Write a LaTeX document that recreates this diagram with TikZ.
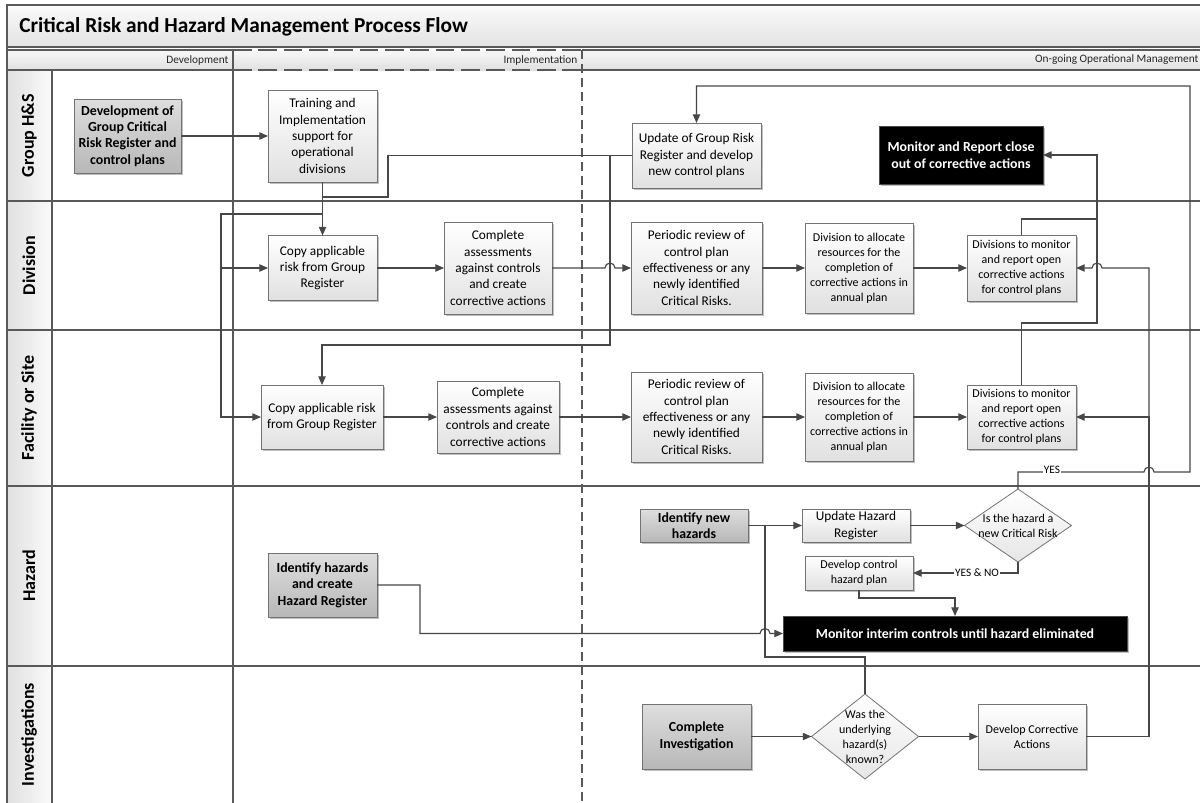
\documentclass[tikz,border=0pt]{standalone}
\usepackage{fontspec}
\setmainfont{Carlito}
\usetikzlibrary{arrows.meta,shadows,shapes.geometric}
\newcommand{\fszA}{\fontsize{10}{12.3}\selectfont}
\newcommand{\fszB}{\fontsize{9}{11.2}\selectfont}
\newcommand{\fszC}{\bfseries\fontsize{10.4}{12.3}\selectfont}
\begin{document}
\begin{tikzpicture}[x=0.75pt,y=-0.75pt,
  conn/.style={draw=black!72, line width=0.85pt},
  arr/.style={conn, -{Triangle[length=6.5pt,width=5.5pt]}},
  lanel/.style={draw=black!65, line width=1pt},
  lanedash/.style={lanel, dash pattern=on 7pt off 3.5pt},
  wh/.style 2 args={minimum width=#1*0.75pt, minimum height=#2*0.75pt},
  shad/.style={drop shadow={shadow xshift=1.2pt, shadow yshift=-1.2pt, opacity=0.25, fill=black}},
  box/.style={draw=black!55, line width=0.6pt, top color=white, bottom color=black!12, inner sep=0pt, outer sep=0pt, align=center, font=\fszA, shad},
  sbox/.style={box, font=\fszB},
  dbox/.style={box, top color=black!13, bottom color=black!28, font=\fszC},
  blk/.style={fill=black, draw=black!70, line width=0.6pt, inner sep=0pt, outer sep=0pt, align=center, text=white, font=\fszC, shad},
  dia/.style={diamond, draw=black!55, line width=0.6pt, top color=white, bottom color=black!10, inner sep=0pt, outer sep=0pt, minimum width=80.25pt},
  lbl/.style={font=\fontsize{8.5}{10}\selectfont, fill=white, inner sep=0.6pt},
  lane/.style={rotate=90, font=\bfseries\fontsize{13.5}{16}\selectfont},
  hdr/.style={anchor=east, font=\fontsize{8.5}{10}\selectfont, text=black!85, inner sep=1pt}
]
\useasboundingbox (0,0) rectangle (1200,803);
\fill[white] (0,0) rectangle (1200,803);
% ---------- frame ----------
\fill[top color=black!2, bottom color=black!11] (7,5) rectangle (1200,47);
\fill[top color=black!3, bottom color=black!12] (7,50) rectangle (1200,70);
\fill[left color=black!12, right color=black!2] (7,70) rectangle (52,803);
\draw[lanel] (7,803) -- (7,5) -- (1200,5);
\draw[lanel] (7,47) -- (1200,47);
\draw[lanel] (7,50) -- (233,50) (582,50) -- (1200,50);
\draw[lanel] (7,70) -- (233,70) (582,70) -- (1200,70);
\draw[lanel, dash pattern=on 14pt off 5pt] (233,50) -- (582,50) (233,70) -- (582,70);
\draw[lanel] (7,201) -- (1200,201) (7,330) -- (1200,330) (7,486) -- (1200,486) (7,666) -- (1200,666);
\draw[lanel] (52,70) -- (52,803);
\draw[lanel] (233,50) -- (233,803);
\draw[lanedash] (582,50) -- (582,803);
\node[anchor=west, font=\bfseries\fontsize{16}{19}\selectfont, inner sep=0pt] (title) at (19,27) {Critical Risk and Hazard Management Process Flow};
\node[hdr] (h1) at (230,60) {Development};
\node[hdr] (h2) at (579,60) {Implementation};
\node[hdr] (h3) at (1200,60) {On-going Operational Management};
\node[lane] (l1) at (29,135.5) {Group H\&S};
\node[lane] (l2) at (29,265.5) {Division};
\node[lane] (l3) at (29,408) {Facility or Site};
\node[lane] (l4) at (29,576) {Hazard};
\node[lane] (l5) at (29,734.5) {Investigations};
% ---------- nodes ----------
\node[dbox, wh={107}{74}] (dev) at (127.5,136) {Development of\\Group Critical\\Risk Register and\\control plans};
\node[box, wh={109}{92}] (tr) at (322.5,136) {Training and\\Implementation\\support for\\operational\\divisions};
\node[box, wh={129}{65}] (updG) at (696.5,155.5) {Update of Group Risk\\Register and develop\\new control plans};
\node[blk, wh={164}{58}] (monR) at (961,155) {Monitor and Report close\\out of corrective actions};
\node[box, wh={109}{65}] (copyD) at (322.5,268) {Copy applicable\\risk from Group\\Register};
\node[box, wh={108}{92}] (compD) at (498,268) {Complete\\assessments\\against controls\\and create\\corrective actions};
\node[box, wh={131}{92}] (perD) at (696.5,268) {Periodic review of\\control plan\\effectiveness or any\\newly identified\\Critical Risks.};
\node[sbox, wh={108}{90}] (allocD) at (859,268) {Division to allocate\\resources for the\\completion of\\corrective actions in\\annual plan};
\node[sbox, wh={109}{66}] (monD) at (1021.5,268) {Divisions to monitor\\and report open\\corrective actions\\for control plans};
\node[box, wh={122}{64}] (copyF) at (322,417) {Copy applicable risk\\from Group Register};
\node[box, wh={122}{72}] (compF) at (498,417) {Complete\\assessments against\\controls and create\\corrective actions};
\node[box, wh={131}{90}] (perF) at (696.5,417) {Periodic review of\\control plan\\effectiveness or any\\newly identified\\Critical Risks.};
\node[sbox, wh={108}{88}] (allocF) at (859,417) {Division to allocate\\resources for the\\completion of\\corrective actions in\\annual plan};
\node[sbox, wh={109}{64}] (monF) at (1021.5,417) {Divisions to monitor\\and report open\\corrective actions\\for control plans};
\node[dbox, wh={108}{33}] (idNew) at (694,525.5) {Identify new\\hazards};
\node[box, wh={108}{33}] (updH) at (856,525.5) {Update Hazard\\Register};
\node[dia, minimum height=54.75pt, label={[font=\fszB, align=center]center:Is the hazard a\\new Critical Risk}] (isHaz) at (1018,525.5) {};
\node[sbox, wh={108}{34}] (devCtl) at (859,573) {Develop control\\hazard plan};
\node[blk, wh={344}{35}] (monI) at (955,633.5) {Monitor interim controls until hazard eliminated};
\node[dbox, wh={109}{64}] (idHaz) at (322.5,585) {Identify hazards\\and create\\Hazard Register};
\node[dbox, wh={109}{65}] (compInv) at (696.5,736.5) {Complete\\Investigation};
\node[dia, minimum height=63.75pt, label={[font=\fszB, align=center]center:Was the\\underlying\\hazard(s)\\known?}] (wasD) at (865,736.5) {};
\node[sbox, wh={108}{65}] (dca) at (1032,736.5) {Develop Corrective\\Actions};
% ---------- connectors ----------
\coordinate (jTr) at (322.5,214);
\coordinate (jUp) at (322.5,197);
\coordinate (jU2) at (610,155.5);
\coordinate (jDC) at (1149,417);
\coordinate (jMon) at (1097,219);
\coordinate (jHz) at (765,525.5);
\draw[arr] (dev.east) -- (tr.west);
\draw[arr] (tr.south) -- (copyD.north);
\draw[arr] (jTr) -- (221,214) |- (copyD.west);
\draw[arr] (jTr) -- (221,214) |- (copyF.west);
\draw[conn] (updG.west) -- (388,155.5) -- (388,197) -- (jUp);
\draw[arr] (jU2) -- (610,345) -| (copyF.north);
\draw[arr] (copyD.east) -- (compD.west);
\draw[arr] (compD.east) -- (605,268) arc[start angle=180, end angle=360, radius=5] -- (perD.west);
\draw[arr] (perD.east) -- (allocD.west);
\draw[arr] (allocD.east) -- (monD.west);
\draw[arr] (copyF.east) -- (compF.west);
\draw[arr] (compF.east) -- (perF.west);
\draw[arr] (perF.east) -- (allocF.west);
\draw[arr] (allocF.east) -- (monF.west);
\draw[arr] (monD.north) -- (1021.5,219) -- (jMon) |- (monR.east);
\draw[conn] (monF.north) -- (1021.5,323) -- (1097,323) -- (jMon);
\draw[arr] (dca.east) -- (1149,736.5) |- (monF.east);
\draw[arr] (jDC) -- (1149,268) -- (1102,268) arc[start angle=0, end angle=-180, radius=5] -- (monD.east);
\draw[arr] (isHaz.north) -- (1018,472) -- (1144,472) arc[start angle=180, end angle=360, radius=5] -- (1190,472) -- (1190,86) -| (updG.north);
\node[lbl] (yes) at (1052,469.5) {YES};
\draw[arr] (idNew.east) -- (updH.west);
\draw[arr] (updH.east) -- (isHaz.west);
\draw[arr] (isHaz.south) |- (devCtl.east);
\node[lbl] (yn) at (977,573) {YES \& NO};
\draw[arr] (devCtl.south) -- (859,598) -| (monI.north);
\draw[arr] (idHaz.east) -- (420,585) -- (420,633.5) -- (760,633.5) arc[start angle=180, end angle=360, radius=5] -- (monI.west);
\draw[conn] (wasD.north) -- (865,657) -- (765,657) -- (jHz);
\draw[arr] (compInv.east) -- (wasD.west);
\draw[arr] (wasD.east) -- (dca.west);
\end{tikzpicture}
\end{document}
